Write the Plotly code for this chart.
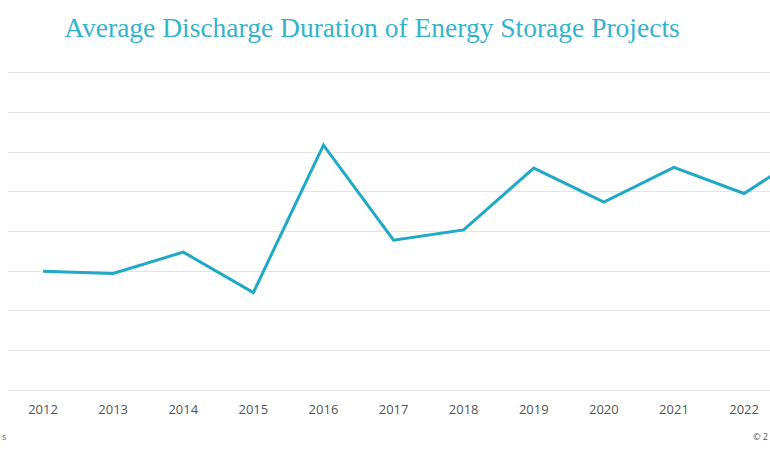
import plotly.graph_objects as go

years = ["2012", "2013", "2014", "2015", "2016", "2017", "2018", "2019", "2020", "2021", "2022", "2023"]
duration_hours = [1.50, 1.47, 1.74, 1.23, 3.09, 1.89, 2.02, 2.80, 2.37, 2.81, 2.48, 3.05]

title_text = "Average Discharge Duration of Energy Storage Projects"
source_text = "s"
copyright_text = "© 2"

W, H = 770, 462
ML, MR, MT, MB = 8, 0, 63, 62
PAD = 0.126  # keeps the 0 and 4 gridlines inside the plot area

fig = go.Figure()
fig.add_trace(go.Scatter(
    x=list(range(len(years))),
    y=duration_hours,
    mode="lines",
    line=dict(color="#1fa9c6", width=3),
    hoverinfo="skip",
    showlegend=False,
))

fig.update_layout(
    width=W,
    height=H,
    margin=dict(l=ML, r=MR, t=MT, b=MB),
    paper_bgcolor="white",
    plot_bgcolor="white",
    title=dict(
        text=title_text,
        x=372 / W,
        xanchor="center",
        y=1 - 27 / H,
        yanchor="middle",
        font=dict(family="Liberation Serif", size=27.5, color="#33b4cc"),
    ),
    xaxis=dict(
        range=[-0.5, 10.37],
        tickmode="array",
        tickvals=list(range(len(years))),
        ticktext=years,
        showgrid=False,
        zeroline=False,
        showline=False,
        ticks="",
        ticklabelstandoff=0,
        tickfont=dict(family="Open Sans", size=13, color="#555555"),
    ),
    yaxis=dict(
        range=[-PAD, 4 + PAD],
        dtick=0.5,
        tick0=0,
        showgrid=True,
        gridcolor="#e4e4e4",
        gridwidth=1,
        zeroline=False,
        showticklabels=False,
        ticks="",
    ),
)

foot_y = -(437 - (H - MB)) / (H - MT - MB)
fig.add_annotation(text=source_text, xref="paper", yref="paper",
                   x=-ML / (W - ML - MR), y=foot_y, xanchor="left", yanchor="middle",
                   showarrow=False, font=dict(family="Open Sans", size=9, color="#555555"))
fig.add_annotation(text=copyright_text, xref="paper", yref="paper",
                   x=1, y=foot_y, xanchor="right", yanchor="middle",
                   showarrow=False, font=dict(family="Open Sans", size=9, color="#555555"))

fig.write_html(
    "out.html",
    config={"displayModeBar": False},
    post_script="document.body.style.margin='0';document.body.style.overflow='hidden';",
)
